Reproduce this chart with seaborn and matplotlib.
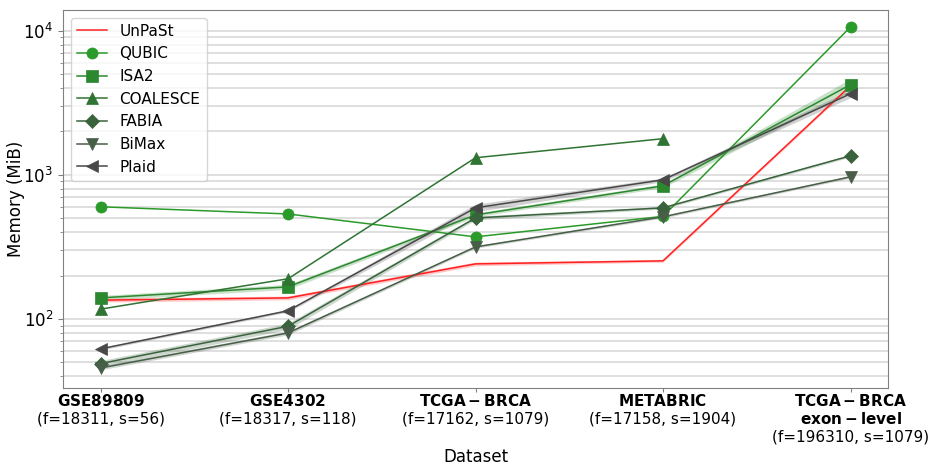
import numpy as np
import pandas as pd
import matplotlib
matplotlib.use("Agg")
import matplotlib.pyplot as plt
import seaborn as sns

# Datasets (x axis) with feature / sample counts
datasets = ["GSE89809", "GSE4302", "TCGA-BRCA", "METABRIC", "TCGA-BRCA exon-level"]
tick_labels = [
    "$\\bf{GSE89809}$\n(f=18311, s=56)",
    "$\\bf{GSE4302}$\n(f=18317, s=118)",
    "$\\bf{TCGA-BRCA}$\n(f=17162, s=1079)",
    "$\\bf{METABRIC}$\n(f=17158, s=1904)",
    "$\\bf{TCGA-BRCA}$\n$\\bf{exon-level}$\n(f=196310, s=1079)",
]

methods = ["UnPaSt", "QUBIC", "ISA2", "COALESCE", "FABIA", "BiMax", "Plaid"]

# Peak memory (MiB) per method and dataset
unpast = [135, 140, 241, 253, 4150]
qubic = [600, 535, 371, 515, 10600]
isa2 = [140, 167, 527, 839, 4220]
coalesce = [117, 190, 1313, 1780, np.nan]
fabia = [49, 89, 502, 590, 1355]
bimax = [45.7, 80, 316, 511, 968]
plaid = [62, 114, 590, 923, 3650]

# Relative spread across runs (half-width of shaded band)
unpast_spread = [0.03, 0.03, 0.03, 0.02, 0.02]
qubic_spread = [0.0, 0.0, 0.0, 0.0, 0.0]
isa2_spread = [0.04, 0.04, 0.03, 0.03, 0.10]
coalesce_spread = [0.0, 0.0, 0.0, 0.0, 0.0]
fabia_spread = [0.05, 0.05, 0.03, 0.02, 0.02]
bimax_spread = [0.03, 0.03, 0.02, 0.02, 0.02]
plaid_spread = [0.02, 0.02, 0.06, 0.03, 0.06]

values = [unpast, qubic, isa2, coalesce, fabia, bimax, plaid]
spreads = [unpast_spread, qubic_spread, isa2_spread, coalesce_spread,
           fabia_spread, bimax_spread, plaid_spread]

colors = {
    "UnPaSt": "#ff2020",
    "QUBIC": "#2a9a2a",
    "ISA2": "#2c882f",
    "COALESCE": "#2f7433",
    "FABIA": "#3a633d",
    "BiMax": "#485e48",
    "Plaid": "#484848",
}
markers = {
    "UnPaSt": "",
    "QUBIC": "o",
    "ISA2": "s",
    "COALESCE": "^",
    "FABIA": "D",
    "BiMax": "v",
    "Plaid": "<",
}

rows = []
for m, vals in zip(methods, values):
    for i, v in enumerate(vals):
        rows.append({"Dataset": i, "Method": m, "Memory": v})
df = pd.DataFrame(rows).dropna()

fig = plt.figure(figsize=(9.32, 4.66), dpi=100)
ax = fig.add_axes([0.0676, 0.1674, 0.8852, 0.8111])

x = np.arange(len(datasets))
for m, vals, sp in zip(methods, values, spreads):
    v = np.asarray(vals, dtype=float)
    s = np.asarray(sp, dtype=float)
    if s.max() > 0:
        ok = ~np.isnan(v)
        ax.fill_between(x[ok], v[ok] * (1 - s[ok]), v[ok] * (1 + s[ok]),
                        color=colors[m], alpha=0.25, linewidth=0, zorder=2)

for m in methods:
    sub = df[df["Method"] == m]
    sns.lineplot(data=sub, x="Dataset", y="Memory", ax=ax, color=colors[m],
                 marker=markers[m] if markers[m] else None,
                 markersize=8 if markers[m] != "D" else 7.5,
                 markeredgewidth=0.5, markeredgecolor=colors[m],
                 linewidth=1.1, label=m, errorbar=None, zorder=3)

ax.set_yscale("log")
ax.set_xlim(-0.2, 4.2)
ax.set_ylim(33.2, 13900)
ax.set_xticks(x)
ax.set_xticklabels(tick_labels, fontsize=11)
ax.tick_params(axis="x", length=3, pad=0.5)
ax.tick_params(axis="y", labelsize=12)
ax.set_xlabel("Dataset", fontsize=12, labelpad=2)
ax.set_ylabel("Memory (MiB)", fontsize=12, labelpad=-1)

ax.grid(True, which="both", axis="y", color="#d9d9d9", linewidth=1.2, zorder=0)
ax.grid(False, axis="x")
ax.set_axisbelow(True)
for sp in ax.spines.values():
    sp.set_color("#808080")
ax.tick_params(which="both", color="#808080")

ax.legend(loc="upper left", fontsize=11, framealpha=0.8)

fig.savefig("out.png", dpi=100)
